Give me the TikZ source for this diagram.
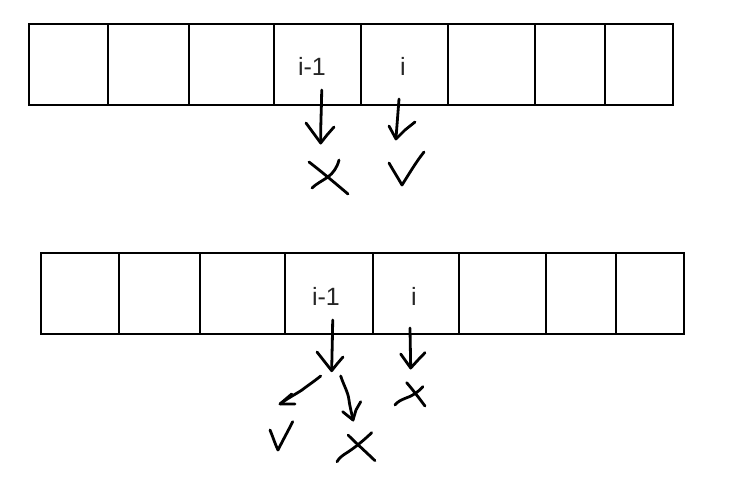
\documentclass[tikz,border=0pt]{standalone}
\usepackage{fontspec}
\setmainfont{Liberation Sans}
\begin{document}
\begin{tikzpicture}[x=1pt,y=-1pt,
  cell/.style={draw=black,line width=1.2pt,inner sep=0pt,outer sep=0pt,anchor=north west},
  lbl/.style={text=black!85,font=\fontsize{25}{30}\selectfont,inner sep=0pt},
  ink/.style={line width=2.8pt,line cap=round,line join=round}]
\useasboundingbox (0,0) rectangle (732,480);
% top row
\foreach \a/\b [count=\k] in {29/108,108/189,189/274,274/361,361/448,448/535,535/605,605/673}{
  \pgfmathsetmacro{\w}{\b-\a}
  \node[cell,minimum width=\w pt,minimum height=81pt] (t\k) at (\a,24) {};
}
% bottom row
\foreach \a/\b [count=\k] in {41/119,119/200,200/285,285/373,373/459,459/546,546/616,616/684}{
  \pgfmathsetmacro{\w}{\b-\a}
  \node[cell,minimum width=\w pt,minimum height=81pt] (b\k) at (\a,253) {};
}
\node[lbl] (ta) at (312,66) {i-1};
\node[lbl] (tb) at (403,66) {i};
\node[lbl] (ba) at (326,296) {i-1};
\node[lbl] (bb) at (414,296) {i};

% top hand strokes
\draw[ink] (321.7,90) .. controls (321.5,110) and (320.5,125) .. (320.7,143);
\draw[ink] (306,123) -- (320.7,143) -- (327,135) -- (334,127);
\draw[ink] (309,162) .. controls (322,172) and (335,183) .. (348,194);
\draw[ink] (339,160) .. controls (337,168) and (333,173) .. (328,177) .. controls (322,181) and (316,184) .. (312,188);
\draw[ink] (399,99) .. controls (398,112) and (397,125) .. (396,138);
\draw[ink] (389,126) -- (396,139) -- (405,130) -- (415,122);
\draw[ink] (389,163) .. controls (393,170) and (398,178) .. (402,185) .. controls (409,174) and (416,162) .. (424,152);

% bottom hand strokes
\draw[ink] (332.7,320) .. controls (332.5,337) and (332,353) .. (331.7,370);
\draw[ink] (317,352) -- (331.7,370.7) -- (337,364) -- (343,357);
\draw[ink] (320.7,376) .. controls (312,383) and (307,386) .. (302,390) .. controls (296,394) and (288,398) .. (280,404);
\draw[ink] (291.7,394) -- (280,404) -- (295,404);
\draw[ink] (340.7,376) .. controls (344,386) and (348,392) .. (349,400) .. controls (350,408) and (352,414) .. (353,420);
\draw[ink] (342.7,411.7) -- (353,420) -- (356,410) -- (360.7,401.7);
\draw[ink] (270,430) .. controls (273,437) and (275,444) .. (278,450) .. controls (283,440) and (288,431) .. (292.7,421.7);
\draw[ink] (348,435) .. controls (357,444) and (366,452) .. (375,460.7);
\draw[ink] (371.7,432.7) .. controls (362,442) and (354,448) .. (348,452) .. controls (343,455) and (339,458) .. (337,461.7);
\draw[ink] (410,328) .. controls (410.2,342) and (410.5,355) .. (410.7,368);
\draw[ink] (400.7,354) -- (410.7,368) -- (418,360) -- (425,352.7);
\draw[ink] (406.7,382.7) .. controls (413,390) and (419,398) .. (425,406);
\draw[ink] (423,386.7) .. controls (417,393) and (412,396) .. (406,398) .. controls (401,400) and (397,402) .. (395,405);
\end{tikzpicture}
\end{document}
